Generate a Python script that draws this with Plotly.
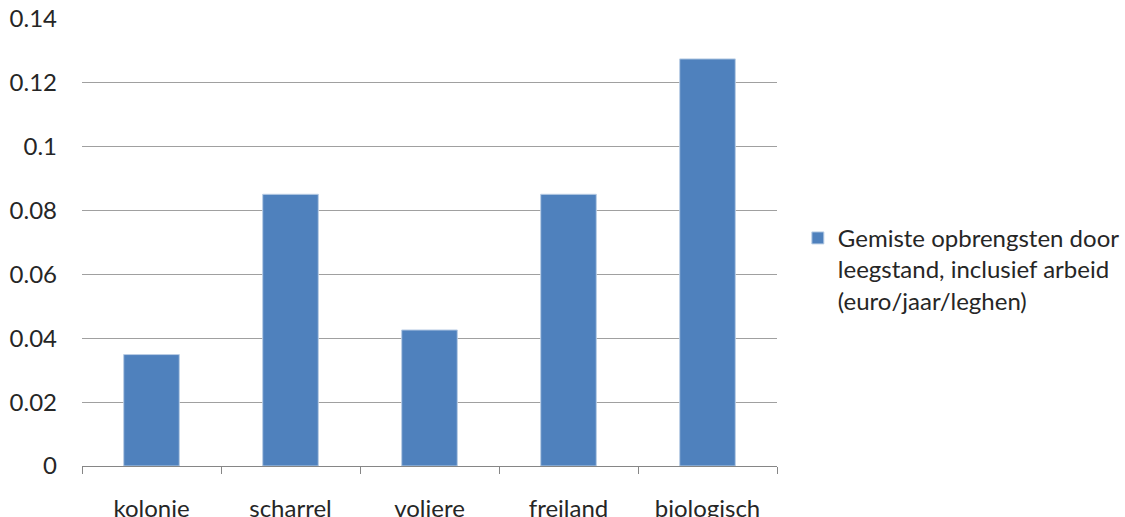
import plotly.graph_objects as go

# Housing systems and missed revenue per laying hen due to vacancy
categories = ["kolonie", "scharrel", "voliere", "freiland", "biologisch"]
values = [0.0349, 0.0851, 0.0426, 0.0851, 0.1275]
series_name = "Gemiste opbrengsten door<br>leegstand, inclusief arbeid<br>(euro/jaar/leghen)"

y_tick_vals = [0, 0.02, 0.04, 0.06, 0.08, 0.10, 0.12, 0.14]
y_tick_text = ["0", "0.02", "0.04", "0.06", "0.08", "0.1", "0.12", "0.14"]

FONT = "Lato, Calibri, sans-serif"
FS = 24

fig = go.Figure()
fig.add_trace(go.Bar(
    x=categories,
    y=values,
    name=series_name,
    width=0.4,
    marker=dict(color="#4F81BD", line=dict(color="#B9CDE5", width=1)),
    showlegend=True,
))

fig.update_layout(
    width=1125,
    height=517,
    margin=dict(l=82, r=348, t=19, b=51, autoexpand=False),
    paper_bgcolor="white",
    plot_bgcolor="white",
    font=dict(family=FONT, size=FS, color="#262626"),
    showlegend=True,
    legend=dict(
        x=1.03, y=0.44, xanchor="left", yanchor="middle",
        font=dict(family=FONT, size=FS, color="#262626"),
        bgcolor="rgba(0,0,0,0)",
        valign="top",
    ),
    bargap=0.6,
)

fig.update_xaxes(
    type="category",
    automargin=False,
    showline=True,
    linecolor="#868686",
    linewidth=1,
    ticks="outside",
    tickson="boundaries",
    ticklen=7,
    tickcolor="#868686",
    showgrid=False,
    ticklabelstandoff=21,
    tickfont=dict(family=FONT, size=FS, color="#262626"),
)

fig.update_yaxes(
    automargin=False,
    range=[0, 0.14],
    tickvals=y_tick_vals,
    ticktext=y_tick_text,
    showgrid=True,
    gridcolor="#A0A0A0",
    gridwidth=1,
    zeroline=False,
    showline=False,
    ticks="",
    ticklabelstandoff=24,
    tickfont=dict(family=FONT, size=FS, color="#262626"),
)

fig.write_html("out.html")
